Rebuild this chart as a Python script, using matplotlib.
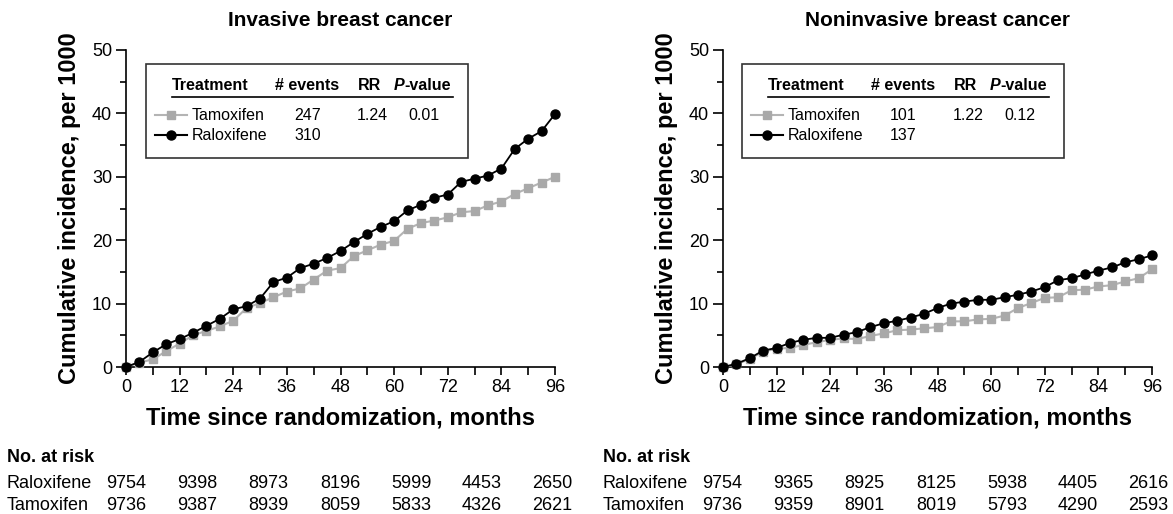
import matplotlib
matplotlib.use("Agg")
import matplotlib.pyplot as plt
from matplotlib.lines import Line2D
from matplotlib.patches import Rectangle

plt.rcParams['font.family'] = ['Liberation Sans', 'DejaVu Sans']

# data, every 3 months
months = [0, 3, 6, 9, 12, 15, 18, 21, 24, 27, 30, 33, 36, 39, 42, 45, 48,
          51, 54, 57, 60, 63, 66, 69, 72, 75, 78, 81, 84, 87, 90, 93, 96]

inv_tam = [0, 0.7, 1.2, 2.5, 3.7, 5.0, 5.7, 6.4, 7.3, 9.3, 10.1, 11.0, 11.9, 12.4, 13.8, 15.2, 15.6,
           17.5, 18.4, 19.3, 19.9, 21.8, 22.7, 23.1, 23.6, 24.4, 24.6, 25.5, 26.1, 27.3, 28.2, 29.1, 30.0]
inv_ral = [0, 0.8, 2.3, 3.6, 4.4, 5.4, 6.5, 7.6, 9.1, 9.6, 10.8, 13.4, 14.1, 15.6, 16.3, 17.2, 18.3,
           19.7, 21.0, 22.1, 23.0, 24.7, 25.6, 26.7, 27.2, 29.2, 29.7, 30.2, 31.3, 34.4, 36.0, 37.2, 39.9]

non_tam = [0, 0.4, 1.3, 2.4, 2.9, 3.0, 3.5, 3.9, 4.3, 4.5, 4.4, 4.9, 5.3, 5.8, 5.9, 6.1, 6.3,
           7.2, 7.2, 7.5, 7.6, 8.1, 9.3, 10.1, 10.9, 11.0, 12.1, 12.2, 12.7, 12.9, 13.5, 14.0, 15.4]
non_ral = [0, 0.5, 1.4, 2.6, 3.0, 3.8, 4.3, 4.6, 4.6, 5.1, 5.5, 6.3, 6.9, 7.3, 7.8, 8.4, 9.3,
           10.0, 10.3, 10.6, 10.6, 11.0, 11.4, 11.9, 12.6, 13.7, 14.0, 14.6, 15.2, 15.7, 16.5, 17.0, 17.6]

# legend table values
inv_events = ["247", "310"]
inv_rr, inv_p = "1.24", "0.01"
non_events = ["101", "137"]
non_rr, non_p = "1.22", "0.12"

# number at risk
risk_inv_ral = [9754, 9398, 8973, 8196, 5999, 4453, 2650]
risk_inv_tam = [9736, 9387, 8939, 8059, 5833, 4326, 2621]
risk_non_ral = [9754, 9365, 8925, 8125, 5938, 4405, 2616]
risk_non_tam = [9736, 9359, 8901, 8019, 5793, 4290, 2593]

xticks = [0, 12, 24, 36, 48, 60, 72, 84, 96]

W, H = 1173, 514
GRAY_LINE = '#b4b4b4'
GRAY_MARK = '#a9a9a9'


def fx(px):
    return px / W


def fy(py):
    return 1 - py / H


fig = plt.figure(figsize=(W / 100, H / 100), dpi=100)


def panel(x0, title, tam, ral, events, rr, pval, risk_ral, risk_tam, dx):
    ax = fig.add_axes([fx(x0), fy(367), fx(429), 317 / H])
    ax.plot(months, tam, color=GRAY_LINE, lw=1.5, marker='s', ms=5.5,
            mfc=GRAY_MARK, mec=GRAY_MARK, clip_on=False, zorder=3)
    ax.plot(months, ral, color='black', lw=1.3, marker='o', ms=6.5,
            clip_on=False, zorder=4)
    ax.set_xlim(0, 96)
    ax.set_ylim(0, 50)
    ax.set_xticks(xticks)
    ax.set_xticks([6, 18, 30, 42, 54, 66, 78, 90], minor=True)
    ax.set_yticks([0, 10, 20, 30, 40, 50])
    ax.set_yticks([5, 15, 25, 35, 45], minor=True)
    ax.spines['top'].set_visible(False)
    ax.spines['right'].set_visible(False)
    for s in ['left', 'bottom']:
        ax.spines[s].set_linewidth(1.2)
    ax.tick_params(axis='both', which='major', labelsize=13, width=1.2, pad=3)
    ax.tick_params(axis='y', which='major', length=7)
    ax.tick_params(axis='y', which='minor', length=4, width=1.2)
    ax.tick_params(axis='x', which='both', length=6, width=1.2)
    ax.set_xlabel("Time since randomization, months", fontsize=17, fontweight='bold', labelpad=7)
    ax.set_ylabel("Cumulative incidence, per 1000", fontsize=17, fontweight='bold', labelpad=8)
    ax.set_title(title, fontsize=15, fontweight='bold', pad=17)

    # legend table box
    box = Rectangle((fx(dx + 146), fy(158)), fx(322), 94 / H, transform=fig.transFigure,
                    fill=False, edgecolor='#333333', lw=1.2)
    fig.patches.append(box)
    hy = fy(86)
    fig.text(fx(dx + 172), hy, "Treatment", fontsize=11.5, fontweight='bold', va='center')
    fig.text(fx(dx + 275), hy, "# events", fontsize=11.5, fontweight='bold', va='center')
    fig.text(fx(dx + 358), hy, "RR", fontsize=11.5, fontweight='bold', va='center')
    tp = fig.text(fx(dx + 394), hy, "P", fontsize=11.5, fontweight='bold', style='italic', va='center')
    ax.annotate("-value", xy=(1, 0.5), xycoords=tp, fontsize=11.5, fontweight='bold',
                va='center', ha='left', annotation_clip=False)
    fig.lines.append(Line2D([fx(dx + 172), fx(dx + 453)], [fy(97), fy(97)],
                            transform=fig.transFigure, color='black', lw=1.2))
    rows = [("Tamoxifen", GRAY_LINE, GRAY_MARK, 's', 5.5, events[0], rr, pval),
            ("Raloxifene", 'black', 'black', 'o', 6.5, events[1], "", "")]
    for i, (name, lc, mc, mk, ms, ev, r, p) in enumerate(rows):
        yy = fy(115 + 20 * i)
        fig.lines.append(Line2D([fx(dx + 155), fx(dx + 187)], [yy, yy], transform=fig.transFigure,
                                color=lc, lw=1.5))
        fig.lines.append(Line2D([fx(dx + 171)], [yy], transform=fig.transFigure, marker=mk,
                                ms=ms, mfc=mc, mec=mc, lw=0))
        fig.text(fx(dx + 192), yy, name, fontsize=11.5, va='center')
        fig.text(fx(dx + 294), yy, ev, fontsize=11.5, va='center')
        fig.text(fx(dx + 357), yy, r, fontsize=11.5, va='center')
        fig.text(fx(dx + 408), yy, p, fontsize=11.5, va='center')

    # number at risk table
    fig.text(fx(dx + 7), fy(457), "No. at risk", fontsize=13, fontweight='bold', va='center')
    cols = [106, 177, 248, 320, 391, 462, 532]
    for name, vals, py in [("Raloxifene", risk_ral, 484), ("Tamoxifen", risk_tam, 505)]:
        fig.text(fx(dx + 7), fy(py), name, fontsize=13, va='center')
        for c, v in zip(cols, vals):
            fig.text(fx(dx + c), fy(py), str(v), fontsize=13, va='center')
    return ax


ax1 = panel(126, "Invasive breast cancer", inv_tam, inv_ral, inv_events, inv_rr, inv_p,
            risk_inv_ral, risk_inv_tam, 0)
ax2 = panel(723, "Noninvasive breast cancer", non_tam, non_ral, non_events, non_rr, non_p,
            risk_non_ral, risk_non_tam, 596)

fig.savefig("out.png", dpi=100)
